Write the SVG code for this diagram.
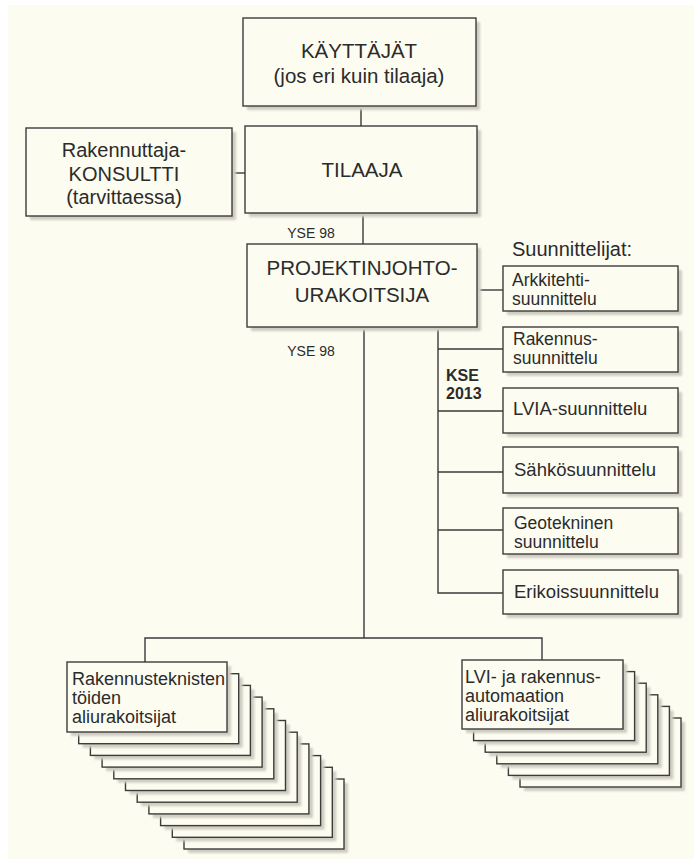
<svg xmlns="http://www.w3.org/2000/svg" width="694" height="859" viewBox="0 0 694 859">
  <style>
    .box { fill: #fdfcf1; stroke: #3c3c3c; stroke-width: 1.4; }
    .shadow { fill: #cfcdc1; filter: url(#soft); }
    .wire { fill: none; stroke: #3a3a3a; stroke-width: 1.4; }
    .big { font-family: "Liberation Sans", Arial, sans-serif; font-size: 20.5px; fill: #2b2b2b; text-anchor: middle; }
    .mid { font-family: "Liberation Sans", Arial, sans-serif; font-size: 18.5px; fill: #2b2b2b; }
    .two { font-size: 17.5px; }
    .lab { font-family: "Liberation Sans", Arial, sans-serif; font-size: 14px; fill: #2b2b2b; text-anchor: middle; }
    .kse { font-family: "Liberation Sans", Arial, sans-serif; font-size: 16px; font-weight: 700; fill: #2b2b2b; }
  </style>
  <defs>
    <filter id="soft" x="-5%" y="-5%" width="110%" height="110%">
      <feGaussianBlur stdDeviation="1"/>
    </filter>
  </defs>

  <!-- paper -->
  <rect x="0" y="0" width="694" height="859" fill="#ffffff"/>
  <rect x="8" y="5" width="686" height="854" fill="#fdfcf1"/>

  <!-- connectors -->
  <g id="connectors">
    <line class="wire" x1="361" y1="106" x2="361" y2="126"/>
    <line class="wire" x1="232" y1="173" x2="245" y2="173"/>
    <line class="wire" x1="363" y1="213" x2="363" y2="244"/>
    <line class="wire" x1="477" y1="290" x2="503" y2="290"/>
    <polyline class="wire" points="438,327 438,593 503,593"/>
    <line class="wire" x1="438" y1="349" x2="503" y2="349"/>
    <line class="wire" x1="438" y1="411" x2="503" y2="411"/>
    <line class="wire" x1="438" y1="472" x2="503" y2="472"/>
    <line class="wire" x1="438" y1="530" x2="503" y2="530"/>
    <line class="wire" x1="364" y1="327" x2="364" y2="638"/>
    <polyline class="wire" points="145,662 145,638 542,638 542,660"/>
  </g>

  <!-- connector labels -->
  <text class="lab" x="311" y="238">YSE 98</text>
  <text class="lab" x="311" y="356">YSE 98</text>
  <text class="kse" x="446" y="381">KSE</text>
  <text class="kse" x="446" y="399">2013</text>

  <g id="kayttajat">
    <rect class="shadow" x="247" y="22" width="233" height="88"/>
    <rect class="box" x="243" y="18" width="233" height="88"/>
    <text class="big" x="359" y="58">KÄYTTÄJÄT</text>
    <text class="big" x="359" y="83">(jos eri kuin tilaaja)</text>
  </g>

  <g id="tilaaja">
    <rect class="shadow" x="249" y="130" width="232" height="87"/>
    <rect class="box" x="245" y="126" width="232" height="87"/>
    <text class="big" x="362" y="177">TILAAJA</text>
  </g>

  <g id="rakennuttajakonsultti">
    <rect class="shadow" x="30" y="132" width="206" height="88"/>
    <rect class="box" x="26" y="128" width="206" height="88"/>
    <text class="big" x="124" y="157" style="font-size:20px">Rakennuttaja-</text>
    <text class="big" x="124" y="181" style="font-size:20px">KONSULTTI</text>
    <text class="big" x="124" y="204" style="font-size:20px">(tarvittaessa)</text>
  </g>

  <g id="projektinjohtourakoitsija">
    <rect class="shadow" x="251" y="248" width="230" height="83"/>
    <rect class="box" x="247" y="244" width="230" height="83"/>
    <text class="big" x="362" y="275">PROJEKTINJOHTO-</text>
    <text class="big" x="362" y="302">URAKOITSIJA</text>
  </g>

  <text class="mid" x="512" y="256" style="font-size:20px">Suunnittelijat:</text>

  <g id="arkkitehti">
    <rect class="shadow" x="507" y="270" width="175" height="45"/>
    <rect class="box" x="503" y="266" width="175" height="45"/>
    <text class="mid two" x="512" y="286">Arkkitehti-</text>
    <text class="mid two" x="512" y="305">suunnittelu</text>
  </g>

  <g id="rakennus">
    <rect class="shadow" x="507" y="331" width="175" height="45"/>
    <rect class="box" x="503" y="327" width="175" height="45"/>
    <text class="mid two" x="513" y="345">Rakennus-</text>
    <text class="mid two" x="513" y="364">suunnittelu</text>
  </g>

  <g id="lvia">
    <rect class="shadow" x="507" y="392" width="175" height="45"/>
    <rect class="box" x="503" y="388" width="175" height="45"/>
    <text class="mid" x="513" y="415">LVIA-suunnittelu</text>
  </g>

  <g id="sahko">
    <rect class="shadow" x="507" y="451" width="175" height="46"/>
    <rect class="box" x="503" y="447" width="175" height="46"/>
    <text class="mid" x="514" y="476">Sähkösuunnittelu</text>
  </g>

  <g id="geotekninen">
    <rect class="shadow" x="507" y="512" width="175" height="46"/>
    <rect class="box" x="503" y="508" width="175" height="46"/>
    <text class="mid two" x="514" y="529">Geotekninen</text>
    <text class="mid two" x="514" y="548">suunnittelu</text>
  </g>

  <g id="erikois">
    <rect class="shadow" x="507" y="574" width="175" height="44"/>
    <rect class="box" x="503" y="570" width="175" height="44"/>
    <text class="mid" x="514" y="598">Erikoissuunnittelu</text>
  </g>

  <!-- stacked sub-contractor cards, drawn back to front -->
  <g id="rakennustekniset">
    <g id="rt-cards">
      <rect class="shadow" x="188" y="783" width="160" height="70"/><rect class="box" x="184" y="779" width="160" height="70"/>
      <rect class="shadow" x="176.3" y="771.3" width="160" height="70"/><rect class="box" x="172.3" y="767.3" width="160" height="70"/>
      <rect class="shadow" x="164.6" y="759.6" width="160" height="70"/><rect class="box" x="160.6" y="755.6" width="160" height="70"/>
      <rect class="shadow" x="152.9" y="747.9" width="160" height="70"/><rect class="box" x="148.9" y="743.9" width="160" height="70"/>
      <rect class="shadow" x="141.2" y="736.2" width="160" height="70"/><rect class="box" x="137.2" y="732.2" width="160" height="70"/>
      <rect class="shadow" x="129.5" y="724.5" width="160" height="70"/><rect class="box" x="125.5" y="720.5" width="160" height="70"/>
      <rect class="shadow" x="117.8" y="712.8" width="160" height="70"/><rect class="box" x="113.8" y="708.8" width="160" height="70"/>
      <rect class="shadow" x="106.1" y="701.1" width="160" height="70"/><rect class="box" x="102.1" y="697.1" width="160" height="70"/>
      <rect class="shadow" x="94.4" y="689.4" width="160" height="70"/><rect class="box" x="90.4" y="685.4" width="160" height="70"/>
      <rect class="shadow" x="82.7" y="677.7" width="160" height="70"/><rect class="box" x="78.7" y="673.7" width="160" height="70"/>
      <rect class="shadow" x="71" y="666" width="160" height="70"/><rect class="box" x="67" y="662" width="160" height="70"/>
    </g>
    <text class="mid" x="72" y="685" style="font-size:18px">Rakennusteknisten</text>
    <text class="mid" x="72" y="704" style="font-size:18px">töiden</text>
    <text class="mid" x="72" y="723" style="font-size:18px">aliurakoitsijat</text>
  </g>

  <g id="lvi-automaatio">
    <g id="lvi-cards">
      <rect class="shadow" x="524" y="722" width="161" height="69"/><rect class="box" x="520" y="718" width="161" height="69"/>
      <rect class="shadow" x="512.4" y="710.4" width="161" height="69"/><rect class="box" x="508.4" y="706.4" width="161" height="69"/>
      <rect class="shadow" x="500.8" y="698.8" width="161" height="69"/><rect class="box" x="496.8" y="694.8" width="161" height="69"/>
      <rect class="shadow" x="489.2" y="687.2" width="161" height="69"/><rect class="box" x="485.2" y="683.2" width="161" height="69"/>
      <rect class="shadow" x="477.6" y="675.6" width="161" height="69"/><rect class="box" x="473.6" y="671.6" width="161" height="69"/>
      <rect class="shadow" x="466" y="664" width="161" height="69"/><rect class="box" x="462" y="660" width="161" height="69"/>
    </g>
    <text class="mid" x="465" y="683" style="font-size:18px">LVI- ja rakennus-</text>
    <text class="mid" x="465" y="702" style="font-size:18px">automaation</text>
    <text class="mid" x="465" y="721" style="font-size:18px">aliurakoitsijat</text>
  </g>
</svg>
